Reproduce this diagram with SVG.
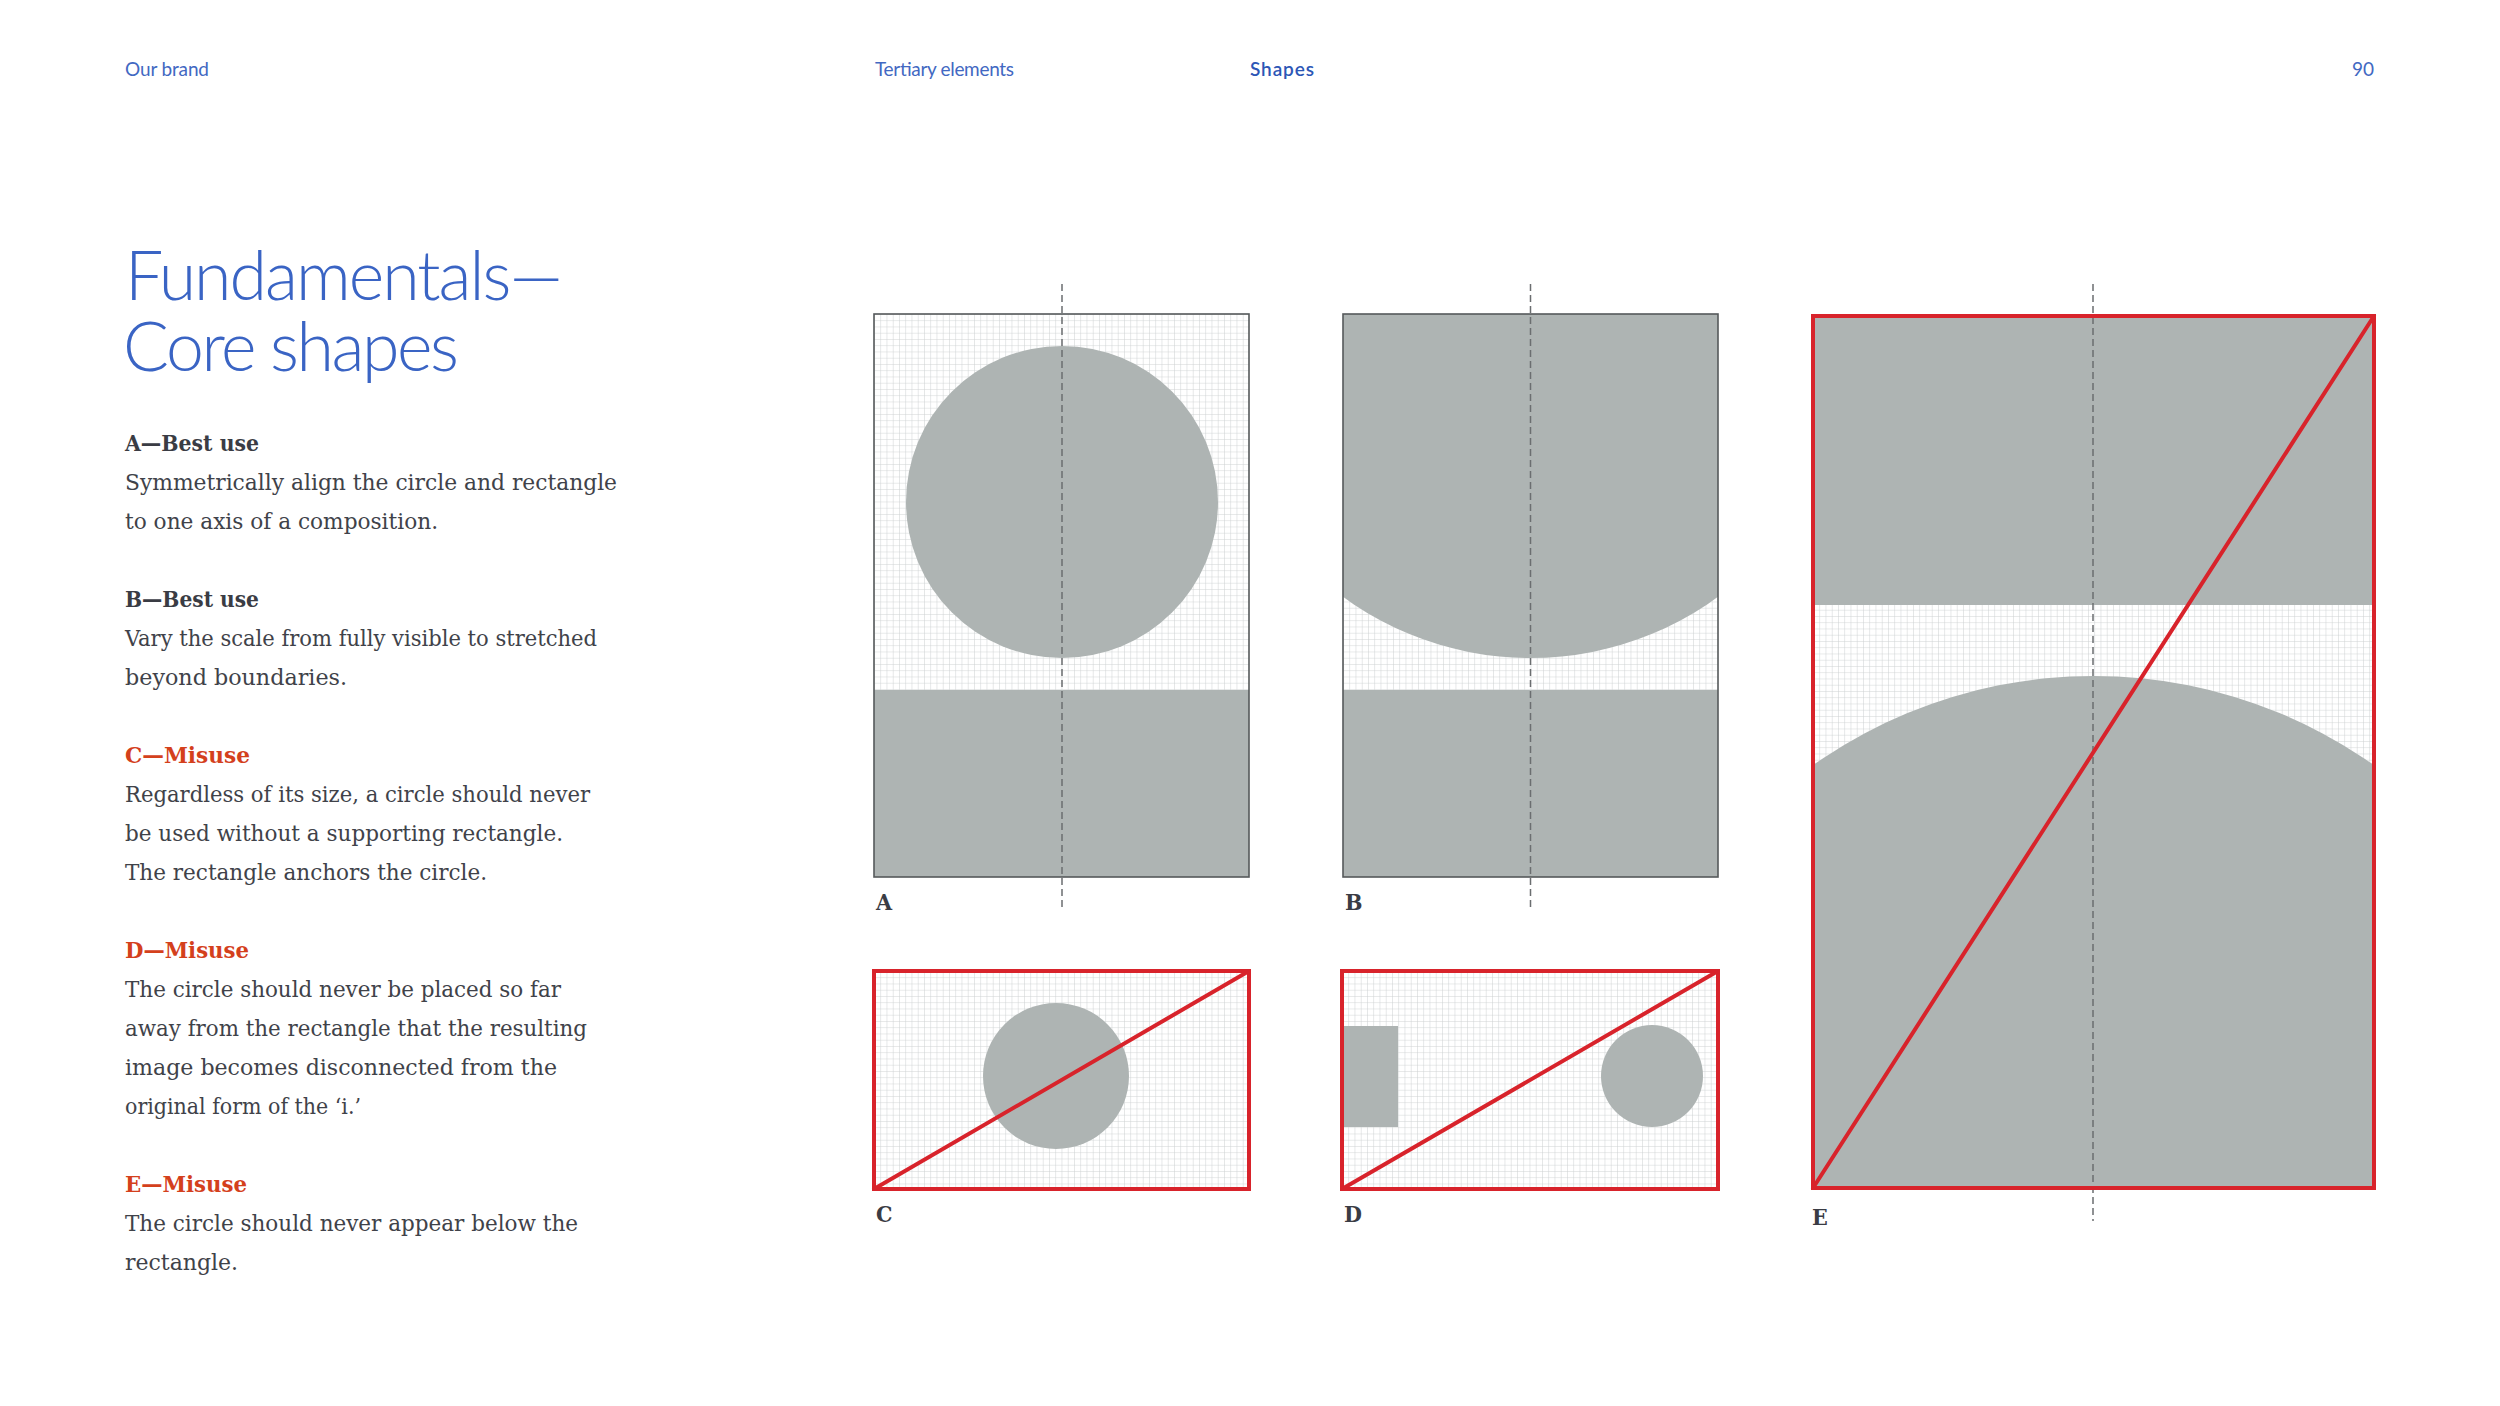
<svg xmlns="http://www.w3.org/2000/svg" width="2500" height="1406" viewBox="0 0 2500 1406">
<style>
.hdr{font-family:Lato,"Liberation Sans",sans-serif;font-weight:400;font-size:19px;fill:#4268c2}
.hdrb{font-family:Lato,"Liberation Sans",sans-serif;font-weight:600;font-size:19px;fill:#2c56b6}
.title{font-family:Lato,"Liberation Sans",sans-serif;font-weight:300;font-size:68px;fill:#3a64c4}
.h{font-family:"DejaVu Serif","Liberation Serif",serif;font-stretch:condensed;font-weight:bold;font-size:22px;fill:#3a3c44}
.hr{font-family:"DejaVu Serif","Liberation Serif",serif;font-stretch:condensed;font-weight:bold;font-size:22px;fill:#d4401c}
.b{font-family:"DejaVu Serif","Liberation Serif",serif;font-stretch:condensed;font-size:22px;fill:#404249}
.lbl{font-family:"DejaVu Serif","Liberation Serif",serif;font-stretch:condensed;font-weight:bold;font-size:23px;fill:#3a3c44}
.shape{fill:#aeb4b3}
.frame{fill:none;stroke:#55595b;stroke-width:1.6}
.bad{fill:none;stroke:#d8232b;stroke-width:4}
.diag{stroke:#d8232b;stroke-width:4;stroke-linecap:round}
.axis{stroke:#6b6e70;stroke-width:1.5;stroke-dasharray:7 4}
.gl{stroke:#cdd1d2;stroke-width:1;fill:none}
</style>
<defs>
<pattern id="gA" patternUnits="userSpaceOnUse" x="874" y="314" width="6.25" height="6.25"><path class="gl" d="M0 0V6.25M0 0H6.25"/></pattern>
<pattern id="gB" patternUnits="userSpaceOnUse" x="1343" y="314" width="6.25" height="6.25"><path class="gl" d="M0 0V6.25M0 0H6.25"/></pattern>
<pattern id="gC" patternUnits="userSpaceOnUse" x="874" y="971" width="6.25" height="6.25"><path class="gl" d="M0 0V6.25M0 0H6.25"/></pattern>
<pattern id="gD" patternUnits="userSpaceOnUse" x="1342" y="971" width="6.25" height="6.25"><path class="gl" d="M0 0V6.25M0 0H6.25"/></pattern>
<pattern id="gE" patternUnits="userSpaceOnUse" x="1813" y="316" width="6.25" height="6.25"><path class="gl" d="M0 0V6.25M0 0H6.25"/></pattern>
<clipPath id="cB"><rect x="1343" y="314" width="375" height="563"/></clipPath>
<clipPath id="cE"><rect x="1813" y="316" width="561" height="872"/></clipPath>
</defs>
<rect width="2500" height="1406" fill="#ffffff"/>

<g id="header">
<text class="hdr" x="125" y="76" textLength="84">Our brand</text>
<text class="hdr" x="875" y="76" textLength="139">Tertiary elements</text>
<text class="hdrb" x="1250" y="76" textLength="64">Shapes</text>
<text class="hdr" x="2374" y="76" text-anchor="end">90</text>
</g>

<g id="title">
<text class="title" x="125" y="300" textLength="438">Fundamentals—</text>
<text class="title" x="123" y="371" textLength="336">Core shapes</text>
</g>

<g id="notes">
<text class="h" x="125" y="451" textLength="134" lengthAdjust="spacingAndGlyphs">A—Best use</text>
<text class="b" x="125" y="490" textLength="492" lengthAdjust="spacingAndGlyphs">Symmetrically align the circle and rectangle</text>
<text class="b" x="125" y="529" textLength="313" lengthAdjust="spacingAndGlyphs">to one axis of a composition.</text>

<text class="h" x="125" y="607" textLength="134" lengthAdjust="spacingAndGlyphs">B—Best use</text>
<text class="b" x="125" y="646" textLength="472" lengthAdjust="spacingAndGlyphs">Vary the scale from fully visible to stretched</text>
<text class="b" x="125" y="685" textLength="222" lengthAdjust="spacingAndGlyphs">beyond boundaries.</text>

<text class="hr" x="125" y="763" textLength="125" lengthAdjust="spacingAndGlyphs">C—Misuse</text>
<text class="b" x="125" y="802" textLength="465" lengthAdjust="spacingAndGlyphs">Regardless of its size, a circle should never</text>
<text class="b" x="125" y="841" textLength="438" lengthAdjust="spacingAndGlyphs">be used without a supporting rectangle.</text>
<text class="b" x="125" y="880" textLength="362" lengthAdjust="spacingAndGlyphs">The rectangle anchors the circle.</text>

<text class="hr" x="125" y="958" textLength="124" lengthAdjust="spacingAndGlyphs">D—Misuse</text>
<text class="b" x="125" y="997" textLength="436" lengthAdjust="spacingAndGlyphs">The circle should never be placed so far</text>
<text class="b" x="125" y="1036" textLength="462" lengthAdjust="spacingAndGlyphs">away from the rectangle that the resulting</text>
<text class="b" x="125" y="1075" textLength="432" lengthAdjust="spacingAndGlyphs">image becomes disconnected from the</text>
<text class="b" x="125" y="1114" textLength="236" lengthAdjust="spacingAndGlyphs">original form of the ‘i.’</text>

<text class="hr" x="125" y="1192" textLength="122" lengthAdjust="spacingAndGlyphs">E—Misuse</text>
<text class="b" x="125" y="1231" textLength="453" lengthAdjust="spacingAndGlyphs">The circle should never appear below the</text>
<text class="b" x="125" y="1270" textLength="113" lengthAdjust="spacingAndGlyphs">rectangle.</text>
</g>

<g id="panel-A">
<rect x="874" y="314" width="375" height="563" fill="url(#gA)"/>
<circle class="shape" cx="1062" cy="502" r="156"/>
<rect class="shape" x="874" y="690" width="375" height="187"/>
<rect class="frame" x="874" y="314" width="375" height="563"/>
<line class="axis" x1="1062" y1="284" x2="1062" y2="909"/>
<text class="lbl" x="876" y="910">A</text>
</g>

<g id="panel-B">
<rect x="1343" y="314" width="375" height="563" fill="url(#gB)"/>
<g clip-path="url(#cB)">
<circle class="shape" cx="1530.5" cy="340" r="318"/>
<rect class="shape" x="1343" y="314" width="375" height="30"/>
</g>
<rect class="shape" x="1343" y="690" width="375" height="187"/>
<rect class="frame" x="1343" y="314" width="375" height="563"/>
<line class="axis" x1="1530.5" y1="284" x2="1530.5" y2="909"/>
<text class="lbl" x="1345" y="910">B</text>
</g>

<g id="panel-C">
<rect x="874" y="971" width="375" height="218" fill="url(#gC)"/>
<circle class="shape" cx="1056" cy="1076" r="73"/>
<line class="diag" x1="874" y1="1189" x2="1249" y2="971"/>
<rect class="bad" x="874" y="971" width="375" height="218"/>
<text class="lbl" x="876" y="1222">C</text>
</g>

<g id="panel-D">
<rect x="1342" y="971" width="376" height="218" fill="url(#gD)"/>
<rect class="shape" x="1342" y="1026" width="56" height="101"/>
<circle class="shape" cx="1652" cy="1076" r="51"/>
<line class="diag" x1="1342" y1="1189" x2="1718" y2="971"/>
<rect class="bad" x="1342" y="971" width="376" height="218"/>
<text class="lbl" x="1344" y="1222">D</text>
</g>

<g id="panel-E">
<rect x="1813" y="316" width="561" height="872" fill="url(#gE)"/>
<rect class="shape" x="1813" y="316" width="561" height="289"/>
<g clip-path="url(#cE)">
<circle class="shape" cx="2093.5" cy="1162" r="486"/>
</g>
<line class="axis" x1="2093" y1="284" x2="2093" y2="1221"/>
<line class="diag" x1="1813" y1="1188" x2="2374" y2="316"/>
<rect class="bad" x="1813" y="316" width="561" height="872"/>
<text class="lbl" x="1812" y="1225">E</text>
</g>

<g id="connectors"></g>
</svg>
